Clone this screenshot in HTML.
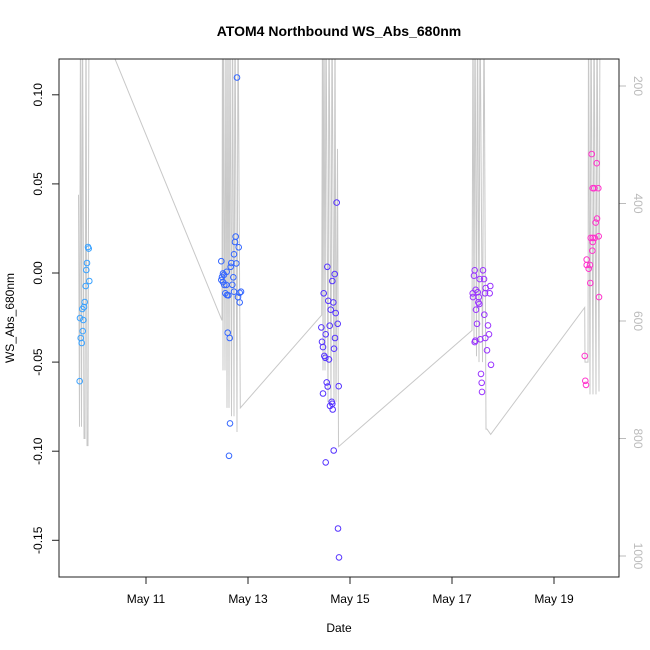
<!DOCTYPE html>
<html><head><meta charset="utf-8"><style>
html,body{margin:0;padding:0;background:#fff;}
svg{display:block;font-family:"Liberation Sans",Arial,sans-serif;}
</style></head><body>
<svg id="chart" width="650" height="650" viewBox="0 0 650 650" xmlns="http://www.w3.org/2000/svg">
<defs><clipPath id="plotclip"><rect x="59" y="59" width="560" height="518"/></clipPath></defs>
<rect x="0" y="0" width="650" height="650" fill="#fff"/>
<text x="339" y="36" text-anchor="middle" font-size="14" font-weight="bold">ATOM4 Northbound WS_Abs_680nm</text>
<text x="339" y="632" text-anchor="middle" font-size="12">Date</text>
<text transform="translate(14,318) rotate(-90)" text-anchor="middle" font-size="12">WS_Abs_680nm</text>
<g id="alt-layer" clip-path="url(#plotclip)"></g>
<g id="pts-layer" clip-path="url(#plotclip)"></g>
<g id="axes"></g>
<rect x="59" y="59" width="560" height="518" fill="none" stroke="#222" stroke-width="1"/>
</svg>
<script>
// x tick data (day of May)
const xTickDays = [11, 13, 15, 17, 19];
const xTickLabels = ["May 11", "May 13", "May 15", "May 17", "May 19"];
const yTicks = [0.10, 0.05, 0.00, -0.05, -0.10, -0.15];
const yTickLabels = ["0.10", "0.05", "0.00", "-0.05", "-0.10", "-0.15"];
const y2Ticks = [200, 400, 600, 800, 1000];

// clusters of WS_Abs_680nm points: day-of-May and value
const c1Days = [9.863,9.876,9.843,9.829,9.888,9.818,9.798,9.784,9.751,9.706,9.771,9.759,9.720,9.739,9.700];
const c1Vals = [0.0146,0.0137,0.0056,0.0017,-0.0045,-0.0073,-0.0163,-0.0191,-0.0202,-0.0253,-0.0264,-0.0326,-0.0365,-0.0393,-0.0607];
const c2Days = [12.784,12.759,12.745,12.818,12.725,12.476,12.673,12.771,12.661,12.582,12.510,12.529,12.490,12.712,12.476,12.510,12.692,12.535,12.575,12.725,12.863,12.555,12.837,12.588,12.614,12.804,12.837,12.602,12.641,12.647,12.627];
const c2Vals = [0.1097,0.0204,0.0174,0.0144,0.0105,0.0066,0.0056,0.0054,0.0035,0.0007,-0.0002,-0.001,-0.0022,-0.0024,-0.0039,-0.0051,-0.0066,-0.0067,-0.0067,-0.0105,-0.0105,-0.0114,-0.0111,-0.0124,-0.0125,-0.0135,-0.0165,-0.0335,-0.0365,-0.0844,-0.1026];
const c3Days = [14.739,14.555,14.700,14.653,14.484,14.575,14.673,14.622,14.720,14.759,14.437,14.602,14.524,14.706,14.451,14.471,14.686,14.496,14.516,14.588,14.543,14.563,14.778,14.471,14.641,14.608,14.653,14.661,14.680,14.524,14.765,14.784];
const c3Vals = [0.0395,0.0035,-0.0006,-0.0045,-0.0114,-0.0156,-0.0165,-0.0206,-0.0225,-0.0285,-0.0305,-0.0296,-0.0344,-0.0365,-0.0386,-0.0416,-0.0425,-0.0465,-0.0476,-0.0485,-0.0614,-0.0637,-0.0635,-0.0676,-0.0723,-0.0746,-0.0734,-0.0766,-0.0996,-0.1063,-0.1434,-0.1596];
const c4Days = [17.445,17.608,17.431,17.543,17.627,17.751,17.465,17.661,17.406,17.504,17.647,17.739,17.412,17.524,17.516,17.535,17.471,17.633,17.490,17.706,17.725,17.653,17.555,17.457,17.445,17.686,17.765,17.569,17.582,17.588];
const c4Vals = [0.0015,0.0015,-0.0015,-0.0034,-0.0034,-0.0073,-0.0094,-0.0084,-0.0114,-0.0108,-0.0114,-0.0114,-0.0135,-0.0135,-0.0165,-0.0174,-0.0206,-0.0234,-0.0285,-0.0294,-0.0344,-0.0365,-0.0372,-0.038,-0.0388,-0.0434,-0.0515,-0.0566,-0.0616,-0.0667];
const c5Days = [19.739,19.837,19.759,19.790,19.869,19.843,19.818,19.720,19.759,19.798,19.876,19.759,19.751,19.641,19.641,19.706,19.680,19.712,19.882,19.602,19.614,19.627];
const c5Vals = [0.0667,0.0616,0.0476,0.0476,0.0476,0.0305,0.0283,0.0197,0.0197,0.0197,0.0206,0.0174,0.0125,0.0075,0.0045,0.0045,0.0024,-0.0056,-0.0135,-0.0465,-0.0605,-0.0628];
const clusterColors = ["#3aa2ff", "#3366ff", "#5533ff", "#9933ff", "#ff33cc"];

// altitude (right axis) trace
const altDays = [9.676,9.696,9.716,9.735,9.755,9.784,9.804,9.824,9.843,9.863,9.882,9.902,
 12.490,12.500,12.510,12.520,12.549,12.569,12.588,12.608,12.627,12.647,12.676,12.696,12.725,12.745,12.784,12.804,12.849,
 14.445,14.461,14.471,14.490,14.510,14.529,14.569,14.588,14.627,14.647,14.686,14.706,14.725,14.755,14.775,
 17.392,17.412,17.431,17.451,17.480,17.500,17.529,17.549,17.578,17.598,17.627,17.667,17.686,17.759,
 19.602,19.608,19.667,19.676,19.706,19.725,19.765,19.784,19.824,19.843,19.882,19.902];
const altVals = [385,780,50,780,50,800,800,50,812,812,50,50,
 599,50,684,50,684,50,748,50,748,50,762,50,762,50,789,50,748,
 590,50,684,50,684,50,738,50,738,50,738,50,738,307,814,
 616,50,640,50,660,50,670,50,424,670,50,784,784,793,
 577,670,670,50,725,50,725,50,725,50,720,50];

const NS = "http://www.w3.org/2000/svg";
function xScale(d){ return 146 + (d - 11) * 51; }
function yScale(v){ return 273 - v * 1782; }
function y2Scale(a){ return 86 + (a - 200) * 0.5875; }
function mk(tag, attrs, parent){
  const e = document.createElementNS(NS, tag);
  for (const k in attrs) e.setAttribute(k, attrs[k]);
  parent.appendChild(e); return e;
}

const altLayer = document.getElementById("alt-layer");
let dstr = "";
for (let i = 0; i < altDays.length; i++) {
  dstr += (i ? "L" : "M") + xScale(altDays[i]).toFixed(1) + "," + y2Scale(altVals[i]).toFixed(1);
}
const altPath = mk("path", {d: dstr, fill: "none", stroke: "#c8c8c8", "stroke-width": "1"}, altLayer);



const ptsLayer = document.getElementById("pts-layer");
const clusters = [[c1Days,c1Vals],[c2Days,c2Vals],[c3Days,c3Vals],[c4Days,c4Vals],[c5Days,c5Vals]];
clusters.forEach((c, ci) => {
  for (let i = 0; i < c[0].length; i++) {
    const p = mk("circle", {cx: xScale(c[0][i]).toFixed(1), cy: yScale(c[1][i]).toFixed(1), r: 2.8, fill: "none", stroke: clusterColors[ci], "stroke-width": "1"}, ptsLayer);
    
    
  }
});

const axes = document.getElementById("axes");
xTickDays.forEach((d, i) => {
  const x = xScale(d);
  const t = mk("line", {x1: x, x2: x, y1: 577, y2: 584, stroke: "#222"}, axes);
  
  
  const l = mk("text", {x: x, y: 603, "text-anchor": "middle", "font-size": "12"}, axes);
  l.textContent = xTickLabels[i];
  
  
});
yTicks.forEach((v, i) => {
  const y = yScale(v);
  const t = mk("line", {x1: 52, x2: 59, y1: y, y2: y, stroke: "#222"}, axes);
  
  
  const l = mk("text", {transform: "translate(42," + y + ") rotate(-90)", "text-anchor": "middle", "font-size": "12"}, axes);
  l.textContent = yTickLabels[i];
  
  
});
y2Ticks.forEach((a) => {
  const y = y2Scale(a);
  const t = mk("line", {x1: 619, x2: 626, y1: y, y2: y, stroke: "#bbb"}, axes);
  
  
  const l = mk("text", {transform: "translate(634," + y + ") rotate(90)", "text-anchor": "middle", "font-size": "12", fill: "#bbb"}, axes);
  l.textContent = String(a);
  
  
});
</script>
</body></html>
